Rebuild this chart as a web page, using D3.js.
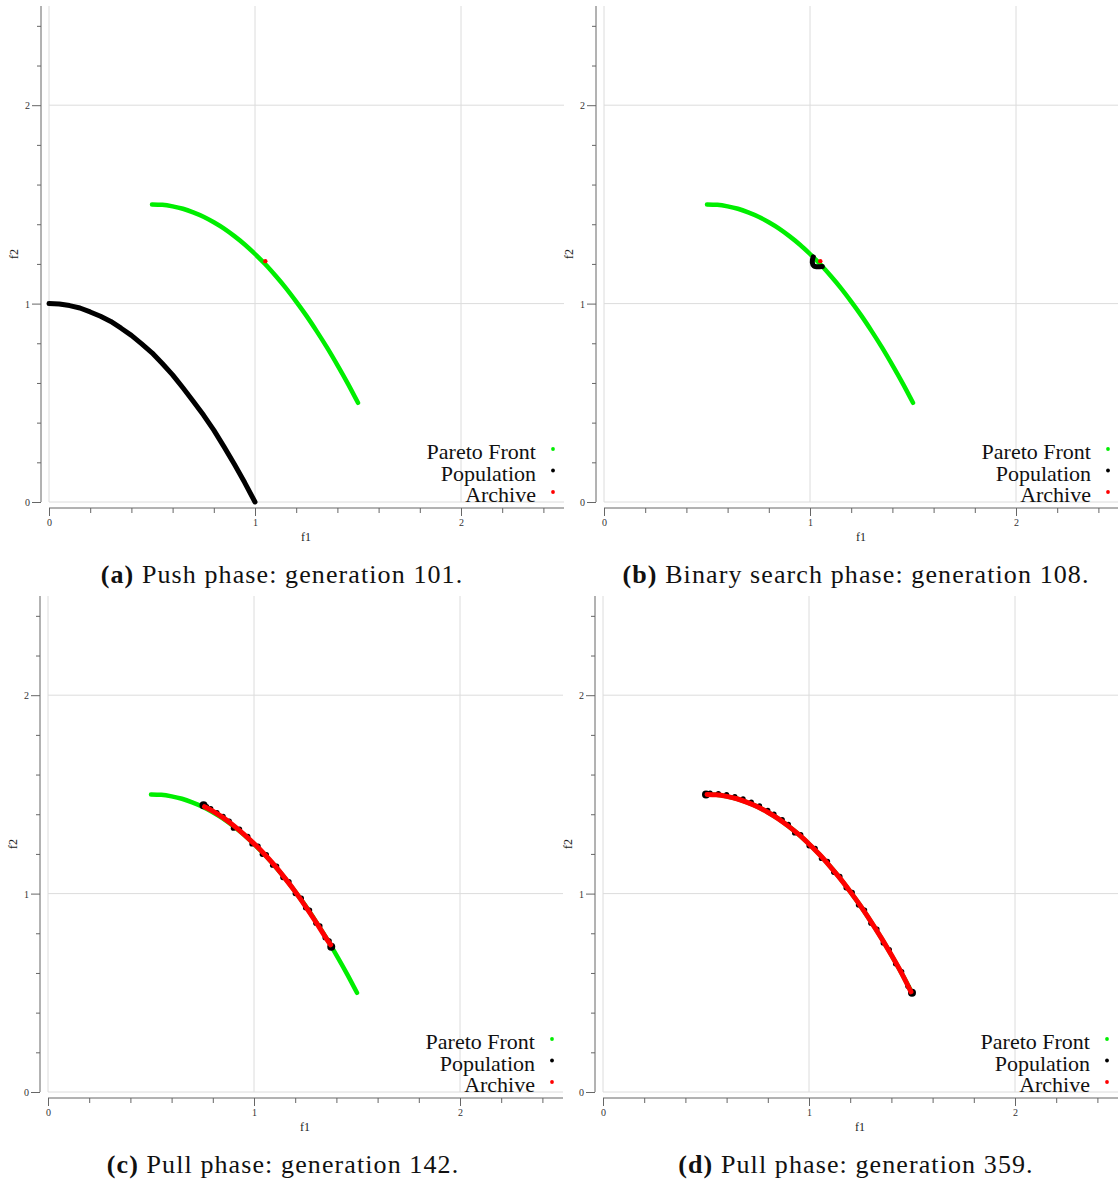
<!DOCTYPE html>
<html>
<head>
<meta charset="utf-8">
<script src="https://cdn.jsdelivr.net/npm/d3@7"></script>
<style>
  html, body { margin: 0; padding: 0; background: #fff; }
  svg { display: block; }
</style>
</head>
<body>
<svg id="chart" width="1118" height="1183"></svg>
<script>
// True Pareto front (f1, f2)
const paretoFront = [
  [0.50, 1.500], [0.55, 1.498], [0.60, 1.490], [0.65, 1.478], [0.70, 1.460],
  [0.75, 1.438], [0.80, 1.410], [0.85, 1.378], [0.90, 1.340], [0.95, 1.298],
  [1.00, 1.250], [1.05, 1.198], [1.10, 1.140], [1.15, 1.078], [1.20, 1.010],
  [1.25, 0.938], [1.30, 0.860], [1.35, 0.778], [1.40, 0.690], [1.45, 0.598],
  [1.50, 0.500]
];

// Generation 101 (push phase)
const popA = [
  [0.00, 1.000], [0.05, 0.998], [0.10, 0.990], [0.15, 0.978], [0.20, 0.958],
  [0.25, 0.936], [0.30, 0.910], [0.35, 0.876], [0.40, 0.840], [0.45, 0.797],
  [0.50, 0.752], [0.55, 0.698], [0.60, 0.641], [0.65, 0.576], [0.70, 0.508],
  [0.75, 0.438], [0.80, 0.362], [0.85, 0.278], [0.90, 0.190], [0.95, 0.098],
  [1.00, 0.000]
];
const archA = [[1.05, 1.214]];

// Generation 108 (binary search phase)
const popB = [
  [1.016, 1.236], [1.012, 1.222], [1.011, 1.208], [1.014, 1.196], [1.020, 1.188],
  [1.032, 1.186], [1.046, 1.186], [1.060, 1.187]
];
const archB = [[1.050, 1.214]];

// Generation 142 (pull phase)
const popC = [
  [0.755, 1.445], [0.770, 1.438], [0.790, 1.428], [0.820, 1.408], [0.850, 1.389],
  [0.880, 1.366], [0.900, 1.330], [0.930, 1.325], [0.970, 1.289], [0.990, 1.250],
  [1.020, 1.240], [1.040, 1.198], [1.060, 1.197], [1.090, 1.143], [1.110, 1.139],
  [1.140, 1.081], [1.170, 1.061], [1.200, 1.000], [1.230, 0.977], [1.250, 0.929],
  [1.270, 0.917], [1.300, 0.851], [1.320, 0.838], [1.345, 0.778], [1.365, 0.762],
  [1.375, 0.732]
];
const archC = [
  [0.760, 1.438], [0.800, 1.416], [0.850, 1.383], [0.900, 1.344], [0.950, 1.300],
  [1.000, 1.252], [1.050, 1.200], [1.100, 1.142], [1.150, 1.078], [1.200, 1.010],
  [1.250, 0.936], [1.300, 0.858], [1.350, 0.776], [1.372, 0.742]
];

// Generation 359 (pull phase)
const popD = [
  [0.500, 1.500], [0.520, 1.506], [0.560, 1.504], [0.600, 1.499], [0.640, 1.489],
  [0.680, 1.477], [0.720, 1.461], [0.760, 1.442], [0.800, 1.419], [0.830, 1.401],
  [0.870, 1.373], [0.900, 1.349], [0.930, 1.306], [0.960, 1.298], [1.000, 1.241],
  [1.030, 1.228], [1.060, 1.177], [1.090, 1.162], [1.120, 1.107], [1.150, 1.087],
  [1.180, 1.029], [1.210, 1.006], [1.240, 0.943], [1.270, 0.917], [1.300, 0.851],
  [1.330, 0.821], [1.360, 0.751], [1.390, 0.718], [1.420, 0.646], [1.450, 0.607],
  [1.480, 0.533], [1.500, 0.500]
];
const archD = [
  [0.505, 1.500], [0.550, 1.498], [0.600, 1.490], [0.650, 1.478], [0.700, 1.460],
  [0.750, 1.438], [0.800, 1.410], [0.850, 1.378], [0.900, 1.340], [0.950, 1.298],
  [1.000, 1.250], [1.050, 1.198], [1.100, 1.140], [1.150, 1.078], [1.200, 1.010],
  [1.250, 0.938], [1.300, 0.860], [1.350, 0.778], [1.400, 0.690], [1.450, 0.598],
  [1.495, 0.505]
];

const legendLabels = ["Pareto Front", "Population", "Archive"];
const captionTags = ["(a)", "(b)", "(c)", "(d)"];
const captionTexts = [
  "Push phase: generation 101.",
  "Binary search phase: generation 108.",
  "Pull phase: generation 142.",
  "Pull phase: generation 359."
];
const majorTicks = [0, 1, 2];

const GREEN = "#00ee00", BLACK = "#000", RED = "#ff0000";

const panels = [
  { left: 49,  bottom: 502,  pop: popA, arch: archA, popMode: "line", archMode: "dot" },
  { left: 604, bottom: 502,  pop: popB, arch: archB, popMode: "line", archMode: "dot" },
  { left: 48,  bottom: 1092, pop: popC, arch: archC, popMode: "dots", archMode: "band" },
  { left: 603, bottom: 1092, pop: popD, arch: archD, popMode: "dots", archMode: "band" }
];
const captionPos = [[282, 583], [856, 583], [283, 1173], [856, 1173]];

const svg = d3.select("#chart");
const W = 515, H = 496;

panels.forEach((p, i) => {
  const g = svg.append("g").attr("transform", `translate(${p.left},${p.bottom - H})`);
  const x = d3.scaleLinear().domain([0, 2.5]).range([0, W]);
  const y = d3.scaleLinear().domain([0, 2.5]).range([H, 0]);
  const isMajor = d => majorTicks.some(m => Math.abs(m - d) < 1e-6);

  // grid
  g.append("g").selectAll("line").data(majorTicks).join("line")
    .attr("x1", d => x(d)).attr("x2", d => x(d)).attr("y1", 0).attr("y2", H)
    .attr("stroke", "#dcdcdc").attr("stroke-width", 1);
  g.append("g").selectAll("line").data(majorTicks).join("line")
    .attr("x1", 0).attr("x2", W).attr("y1", d => y(d)).attr("y2", d => y(d))
    .attr("stroke", "#dcdcdc").attr("stroke-width", 1);

  // y axis, set off to the left of the plot area
  const yAx = g.append("g").attr("transform", "translate(-8,0)");
  yAx.call(d3.axisLeft(y).tickValues(d3.range(0, 2.41, 0.2)).tickSize(4).tickFormat(() => ""));
  yAx.select(".domain").attr("d", `M0,0V${H}`);
  const yMaj = yAx.selectAll(".tick").filter(isMajor);
  yMaj.select("line").attr("x2", -9);
  yMaj.append("text").attr("x", -11).attr("dy", "0.35em").attr("text-anchor", "end")
    .text(d => d3.format("d")(Math.round(d)));
  yAx.selectAll("path, line").attr("stroke", "#666");
  yAx.selectAll("text").attr("fill", "#333").style("font", "10px 'Liberation Serif', serif");

  // x axis, set off below the plot area
  const xAx = g.append("g").attr("transform", `translate(0,${H + 6})`);
  xAx.call(d3.axisBottom(x).tickValues(d3.range(0, 2.41, 0.2)).tickSize(5).tickFormat(() => ""));
  xAx.select(".domain").attr("d", `M0,0H${W}`);
  const xMaj = xAx.selectAll(".tick").filter(isMajor);
  xMaj.select("line").attr("y2", 8);
  xMaj.append("text").attr("y", 18).attr("text-anchor", "middle")
    .text(d => d3.format("d")(Math.round(d)));
  xAx.selectAll("path, line").attr("stroke", "#666");
  xAx.selectAll("text").attr("fill", "#333").style("font", "10px 'Liberation Serif', serif");

  // axis titles
  g.append("text").attr("x", 257).attr("y", H + 39).attr("text-anchor", "middle")
    .style("font", "12px 'Liberation Serif', serif").attr("fill", "#222").text("f1");
  g.append("text").attr("transform", `translate(-31,${H - 248}) rotate(-90)`)
    .attr("text-anchor", "middle")
    .style("font", "12px 'Liberation Serif', serif").attr("fill", "#222").text("f2");

  const line = d3.line().x(d => x(d[0])).y(d => y(d[1])).curve(d3.curveCatmullRom);

  // Pareto front
  g.append("path").datum(paretoFront).attr("d", line)
    .attr("fill", "none").attr("stroke", GREEN).attr("stroke-width", 4.5)
    .attr("stroke-linecap", "round").attr("stroke-linejoin", "round");

  // population
  if (p.popMode === "line") {
    g.append("path").datum(p.pop).attr("d", d3.line().x(d => x(d[0])).y(d => y(d[1])))
      .attr("fill", "none").attr("stroke", BLACK).attr("stroke-width", 5)
      .attr("stroke-linecap", "round").attr("stroke-linejoin", "round");
  } else {
    g.append("g").selectAll("circle").data(p.pop).join("circle")
      .attr("cx", d => x(d[0])).attr("cy", d => y(d[1])).attr("r", 2.6).attr("fill", BLACK);
    const ends = [p.pop[0], p.pop[p.pop.length - 1]];
    g.append("g").selectAll("circle").data(ends).join("circle")
      .attr("cx", d => x(d[0])).attr("cy", d => y(d[1])).attr("r", 4).attr("fill", BLACK);
  }

  // archive
  if (p.archMode === "dot") {
    g.append("g").selectAll("circle").data(p.arch).join("circle")
      .attr("cx", d => x(d[0])).attr("cy", d => y(d[1])).attr("r", 2.2).attr("fill", RED);
  } else {
    g.append("path").datum(p.arch).attr("d", line)
      .attr("fill", "none").attr("stroke", RED).attr("stroke-width", 5)
      .attr("stroke-linecap", "round").attr("stroke-linejoin", "round");
  }

  // legend
  const leg = g.append("g").attr("transform", `translate(${W - 28},${H - 50})`);
  const legColors = [GREEN, BLACK, RED];
  legendLabels.forEach((lab, k) => {
    leg.append("text").attr("x", 0).attr("y", k * 21.5 + 7).attr("text-anchor", "end")
      .style("font", "22px 'Liberation Serif', serif").attr("fill", "#111").text(lab);
    leg.append("circle").attr("cx", 17).attr("cy", k * 21.5 - 3).attr("r", 1.9)
      .attr("fill", legColors[k]);
  });

  // caption
  const cap = svg.append("text").attr("x", captionPos[i][0]).attr("y", captionPos[i][1])
    .attr("text-anchor", "middle").style("font", "26px 'Liberation Serif', serif")
    .style("letter-spacing", "1.1px").attr("fill", "#111");
  cap.append("tspan").attr("font-weight", "bold").text(captionTags[i]);
  cap.append("tspan").text(" " + captionTexts[i]);
});
</script>
</body>
</html>
